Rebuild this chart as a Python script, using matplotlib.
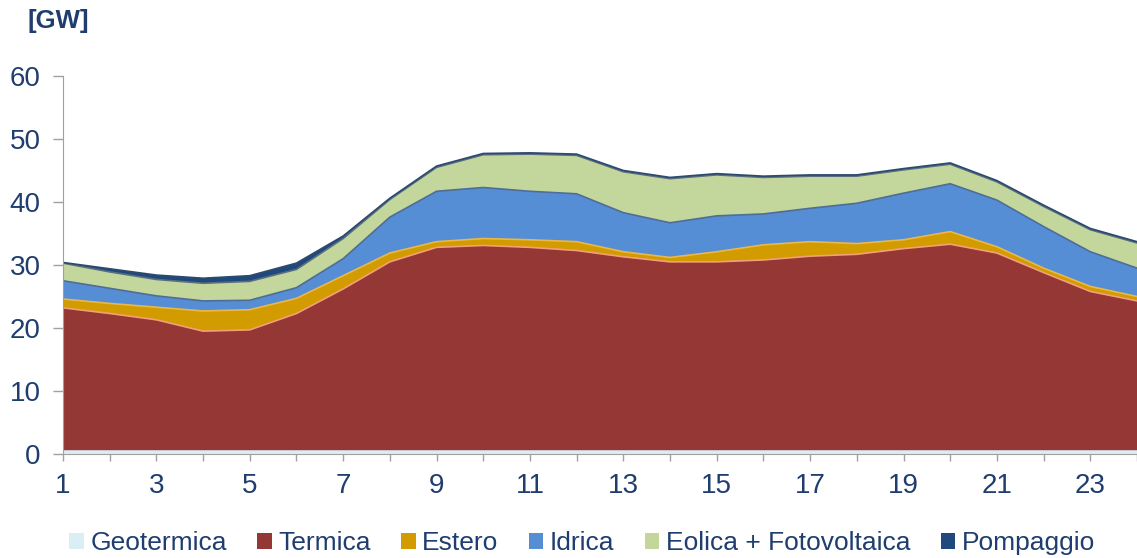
import matplotlib
matplotlib.use("Agg")
import matplotlib.pyplot as plt
import numpy as np

hours = list(range(1, 25))
geotermica = [0.6] * 24
termica = [22.6, 21.7, 20.7, 18.9, 19.1, 21.7, 25.6, 29.9, 32.2, 32.5, 32.2, 31.7,
           30.7, 29.9, 29.9, 30.2, 30.8, 31.1, 32.0, 32.7, 31.3, 28.2, 25.2, 23.7]
estero = [1.4, 1.6, 2.0, 3.2, 3.2, 2.4, 2.1, 1.4, 0.9, 1.1, 1.2, 1.4,
          0.8, 0.7, 1.6, 2.4, 2.3, 1.7, 1.4, 2.0, 1.0, 0.7, 0.8, 0.7]
idrica = [2.9, 2.4, 1.8, 1.6, 1.5, 1.7, 2.7, 5.7, 8.0, 8.1, 7.7, 7.6,
          6.2, 5.5, 5.7, 4.9, 5.3, 6.4, 7.4, 7.6, 7.4, 6.6, 5.5, 4.5]
eolica_fv = [2.8, 2.6, 2.6, 2.8, 3.0, 2.9, 3.2, 2.8, 3.8, 5.2, 5.9, 6.1,
             6.5, 7.0, 6.5, 5.8, 5.1, 4.3, 3.7, 3.1, 2.9, 3.2, 3.5, 4.0]
pompaggio = [0.1, 0.5, 0.7, 0.8, 0.9, 1.0, 0.4, 0.2, 0.2, 0.2, 0.2, 0.2,
             0.2, 0.2, 0.2, 0.2, 0.2, 0.2, 0.2, 0.2, 0.2, 0.2, 0.2, 0.2]

labels = ["Geotermica", "Termica", "Estero", "Idrica", "Eolica + Fotovoltaica", "Pompaggio"]
colors = ["#DAEEF3", "#953735", "#D29B00", "#558ED5", "#C3D69B", "#1F497D"]
edge_colors = ["#B7DDE8", "#F2A07A", "#E8B84A", "#4F6D96", "#5A6E80", "#2C4A6E"]
series = [geotermica, termica, estero, idrica, eolica_fv, pompaggio]

navy = "#1F3D6E"
plt.rcParams['font.family'] = ['Liberation Sans', 'DejaVu Sans']

fig = plt.figure(figsize=(11.37, 5.58), dpi=100)
ax = fig.add_axes([0.0554, 0.1864, 0.9446, 0.6774])

ax.stackplot(hours, *series, colors=colors, labels=labels, linewidth=0)
cum = np.cumsum(np.array(series, dtype=float), axis=0)
for i in range(1, len(series)):
    ax.plot(hours, cum[i], color=edge_colors[i], lw=1.2, solid_joinstyle='round')

ax.set_xlim(1, 24)
ax.set_ylim(0, 60)
ax.set_yticks(range(0, 61, 10))
ax.set_xticks(hours)
ax.set_xticklabels([str(h) if h % 2 == 1 else "" for h in hours])

for s in ["top", "right"]:
    ax.spines[s].set_visible(False)
ax.spines["left"].set_color("#A0A0A0")
ax.spines["bottom"].set_color("#A0A0A0")
ax.tick_params(axis="both", colors="#A0A0A0", labelcolor=navy, labelsize=20,
               direction="out", width=1)
ax.tick_params(axis="y", pad=9, length=7)
ax.tick_params(axis="x", pad=9, length=5)

fig.text(0.024, 0.962, "[GW]", color=navy, fontsize=18.5, fontweight="bold",
         va="center", ha="left")

handles, lbls = ax.get_legend_handles_labels()
leg = fig.legend(handles, lbls, loc="center", bbox_to_anchor=(0.512, 0.027), ncol=6,
                 frameon=False, fontsize=19, handlelength=0.55, handleheight=0.55,
                 handletextpad=0.25, columnspacing=1.15, borderaxespad=0)
for t in leg.get_texts():
    t.set_color(navy)

fig.savefig("out.png", dpi=100)
